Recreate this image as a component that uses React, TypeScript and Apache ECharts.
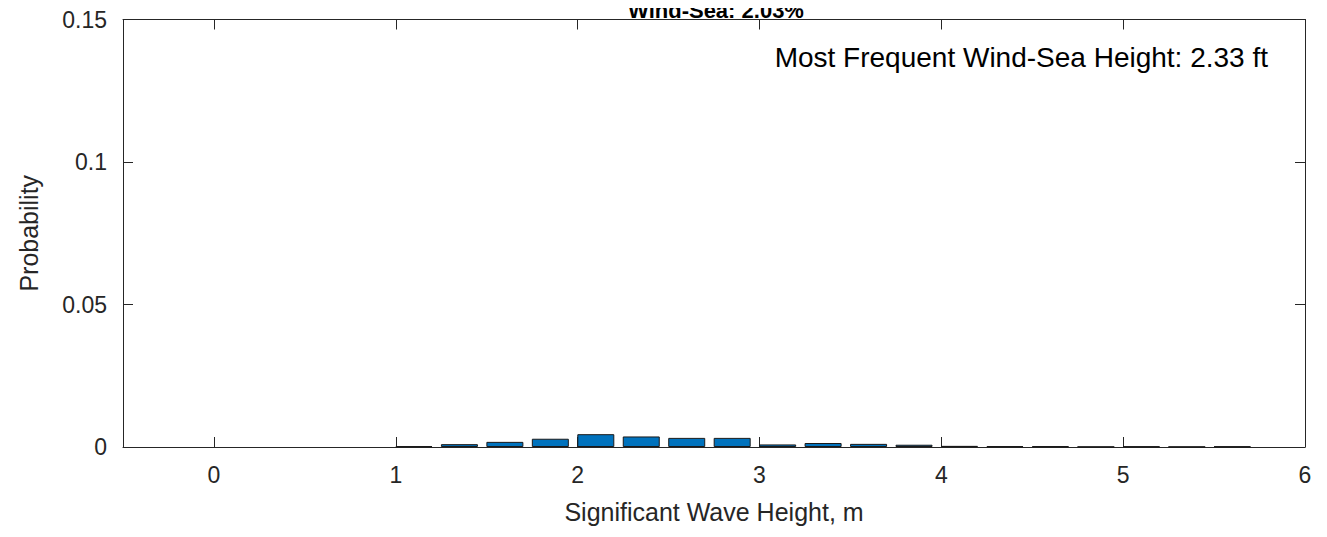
import { useEffect, useRef } from "react";
import * as echarts from "echarts";

const heights = [1.1, 1.35, 1.6, 1.85, 2.1, 2.35, 2.6, 2.85, 3.1, 3.35, 3.6, 3.85, 4.1, 4.35, 4.6, 4.85, 5.1, 5.35, 5.6];
const probs = [0.0003, 0.001, 0.0018, 0.0029, 0.0045, 0.0037, 0.0032, 0.0032, 0.0009, 0.0014, 0.0011, 0.0008, 0.0004, 0.0003, 0.0003, 0.0001, 0.0002, 0.0001, 0.0002];
const xTicks = [0, 1, 2, 3, 4, 5, 6];
const yTicks = [0, 0.05, 0.1, 0.15];

const font = "'Liberation Sans', Arial, sans-serif";

const App = () => {
  const ref = useRef<HTMLDivElement>(null);

  useEffect(() => {
    if (!ref.current) return;
    const chart = echarts.init(ref.current, null, { renderer: "svg" });
    const line = { show: true, onZero: false, lineStyle: { color: "#262626", width: 1 } };
    const tick = { show: true, inside: true, length: 10, lineStyle: { color: "#262626" } };
    const label = { fontFamily: font, fontSize: 23, color: "#262626" };
    chart.setOption({
      animation: false,
      title: {
        text: "Wind-Sea: 2.03%",
        left: 703,
        textAlign: "center",
        top: -14,
        textStyle: { fontFamily: font, fontSize: 22, fontWeight: "bold", color: "#000" },
      },
      grid: { left: 110, right: 14, top: 10, bottom: 76 },
      xAxis: [
        {
          type: "value", min: -0.5, max: 6, position: "bottom",
          name: "Significant Wave Height, m", nameLocation: "middle", nameGap: 52,
          nameTextStyle: { ...label, fontSize: 25 },
          axisLine: line,
          axisTick: { ...tick, customValues: xTicks },
          axisLabel: { ...label, customValues: xTicks, margin: 16 },
          splitLine: { show: false },
        },
        {
          type: "value", min: -0.5, max: 6, position: "top",
          axisLine: line,
          axisTick: { ...tick, customValues: xTicks },
          axisLabel: { show: false, customValues: xTicks },
          splitLine: { show: false },
        },
      ],
      yAxis: [
        {
          type: "value", min: 0, max: 0.15, interval: 0.05, position: "left",
          name: "Probability", nameLocation: "middle", nameGap: 82,
          nameTextStyle: { ...label, fontSize: 25 },
          axisLine: line,
          axisTick: { ...tick, customValues: yTicks },
          axisLabel: { ...label, margin: 16 },
          splitLine: { show: false },
        },
        {
          type: "value", min: 0, max: 0.15, interval: 0.05, position: "right",
          axisLine: line,
          axisTick: { ...tick, customValues: yTicks },
          axisLabel: { show: false },
          splitLine: { show: false },
        },
      ],
      graphic: [
        {
          type: "text", right: 51, top: 35,
          style: { text: "Most Frequent Wind-Sea Height: 2.33 ft", fontFamily: font, fontSize: 28, fill: "#000" },
        },
      ],
      series: [
        {
          type: "bar",
          data: heights.map((h, i) => [h, probs[i]]),
          barWidth: 37,
          itemStyle: { color: "#0072BD", borderColor: "#1a1a1a", borderWidth: 1 },
        },
      ],
    });
    return () => chart.dispose();
  }, []);

  return <div ref={ref} style={{ width: 1311, height: 521 }} />;
};

export default App;
